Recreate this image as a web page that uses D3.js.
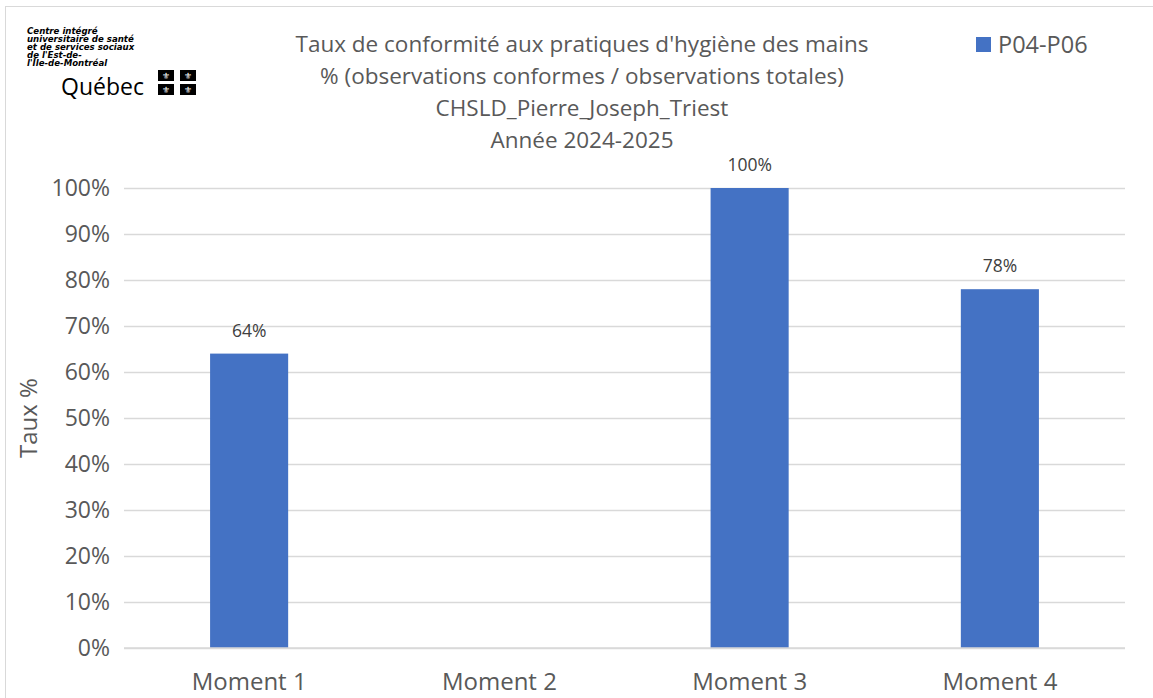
<!DOCTYPE html>
<html>
<head>
<meta charset="utf-8">
<script src="https://cdn.jsdelivr.net/npm/d3@7"></script>
<style>
  body { margin: 0; background: #fff; }
  text { font-family: "Open Sans", "Liberation Sans", sans-serif; }
</style>
</head>
<body>
<div id="chart"></div>
<script>
var categories = ['Moment 1', 'Moment 2', 'Moment 3', 'Moment 4'];
var values = [64, null, 100, 78];
var yTicks = [0, 10, 20, 30, 40, 50, 60, 70, 80, 90, 100];
var seriesName = 'P04-P06';
var titleLines = [
    "Taux de conformité aux pratiques d'hygiène des mains",
    '% (observations conformes / observations totales)',
    'CHSLD_Pierre_Joseph_Triest',
    'Année 2024-2025'
];
var logoLines = ['Centre intégré', 'universitaire de santé', 'et de services sociaux', "de l'Est-de-", "l'Île-de-Montréal"];

var W = 1153, H = 698,
    margin = { top: 188, right: 28, bottom: 50, left: 124 },
    width = W - margin.left - margin.right,
    height = H - margin.top - margin.bottom;

var barColor = '#4472C4';

var svg = d3.select('#chart').append('svg')
    .attr('width', W)
    .attr('height', H);

// chart frame
svg.append('rect')
    .attr('x', 5.5).attr('y', 6.5)
    .attr('width', W).attr('height', H)
    .attr('fill', 'none')
    .attr('stroke', '#d9d9d9');

var xScale = d3.scaleBand()
    .domain(categories)
    .range([0, width])
    .paddingInner(0.688)
    .paddingOuter(0.344);

var yScale = d3.scaleLinear()
    .domain([0, 100])
    .range([height, 0]);

var chart = svg.append('g')
    .attr('transform', 'translate(' + margin.left + ',' + margin.top + ')');

// gridlines
var yGuide = chart.append('g')
    .call(d3.axisLeft(yScale)
        .tickValues(yTicks)
        .tickSize(-width)
        .tickFormat(function(d) { return d + '%'; }));
yGuide.select('.domain').remove();
yGuide.selectAll('line').attr('stroke', '#d9d9d9').attr('stroke-width', 1.3);
yGuide.selectAll('text')
    .attr('x', -14)
    .attr('fill', '#595959')
    .style('font-size', '23px');

var barData = values.map(function(v, i) { return { c: categories[i], v: v }; })
    .filter(function(d) { return d.v !== null; });

chart.selectAll('rect.bar')
    .data(barData)
    .enter().append('rect')
    .attr('class', 'bar')
    .attr('fill', barColor)
    .attr('x', function(d) { return xScale(d.c); })
    .attr('width', xScale.bandwidth())
    .attr('y', function(d) { return yScale(d.v); })
    .attr('height', function(d) { return height - yScale(d.v); });

chart.selectAll('text.lbl')
    .data(barData)
    .enter().append('text')
    .attr('class', 'lbl')
    .attr('x', function(d) { return xScale(d.c) + xScale.bandwidth() / 2; })
    .attr('y', function(d) { return yScale(d.v) - 17; })
    .attr('text-anchor', 'middle')
    .attr('fill', '#404040')
    .style('font-size', '17.5px')
    .text(function(d) { return d.v + '%'; });

// x axis line
chart.append('line')
    .attr('x1', 0).attr('x2', width)
    .attr('y1', height).attr('y2', height)
    .attr('stroke', '#d9d9d9').attr('stroke-width', 1.5);

var xGuide = chart.append('g')
    .attr('transform', 'translate(0,' + height + ')')
    .call(d3.axisBottom(xScale).tickSize(0));
xGuide.select('.domain').remove();
xGuide.selectAll('text')
    .attr('dy', 0)
    .attr('y', 42)
    .attr('fill', '#595959')
    .style('font-size', '24px');

// y axis title
svg.append('text')
    .attr('transform', 'translate(37,' + (margin.top + height / 2) + ') rotate(-90)')
    .attr('text-anchor', 'middle')
    .attr('fill', '#595959')
    .style('font-size', '24px')
    .text('Taux %');

// title
svg.append('g').selectAll('text')
    .data(titleLines)
    .enter().append('text')
    .attr('x', 582)
    .attr('y', function(d, i) { return 52 + i * 32; })
    .attr('text-anchor', 'middle')
    .attr('fill', '#595959')
    .style('font-size', '22.5px')
    .text(function(d) { return d; });

// legend
svg.append('rect')
    .attr('x', 976).attr('y', 37)
    .attr('width', 15).attr('height', 15)
    .attr('fill', barColor);
svg.append('text')
    .attr('x', 998).attr('y', 53)
    .attr('fill', '#595959')
    .style('font-size', '23.5px')
    .text(seriesName);

// logo
var logo = svg.append('g');
logo.selectAll('text.l')
    .data(logoLines)
    .enter().append('text')
    .attr('class', 'l')
    .attr('x', 27)
    .attr('y', function(d, i) { return 34 + i * 8; })
    .attr('fill', '#000')
    .style('font-family', '"DejaVu Sans", sans-serif')
    .style('font-size', '8.6px')
    .style('font-weight', 'bold')
    .style('font-style', 'italic')
    .text(function(d) { return d; });
logo.append('text')
    .attr('x', 61).attr('y', 95)
    .attr('fill', '#000')
    .style('font-size', '23px')
    .text('Québec');
var flags = [[158, 70], [180, 70], [158, 84], [180, 84]];
logo.selectAll('rect.f')
    .data(flags)
    .enter().append('rect')
    .attr('class', 'f')
    .attr('x', function(d) { return d[0]; })
    .attr('y', function(d) { return d[1]; })
    .attr('width', 16).attr('height', 11)
    .attr('fill', '#000');
logo.selectAll('text.f')
    .data(flags)
    .enter().append('text')
    .attr('class', 'f')
    .attr('x', function(d) { return d[0] + 8; })
    .attr('y', function(d) { return d[1] + 9; })
    .attr('text-anchor', 'middle')
    .attr('fill', '#fff')
    .style('font-family', '"DejaVu Sans", sans-serif')
    .style('font-size', '9px')
    .text('⚜');
</script>
</body>
</html>
